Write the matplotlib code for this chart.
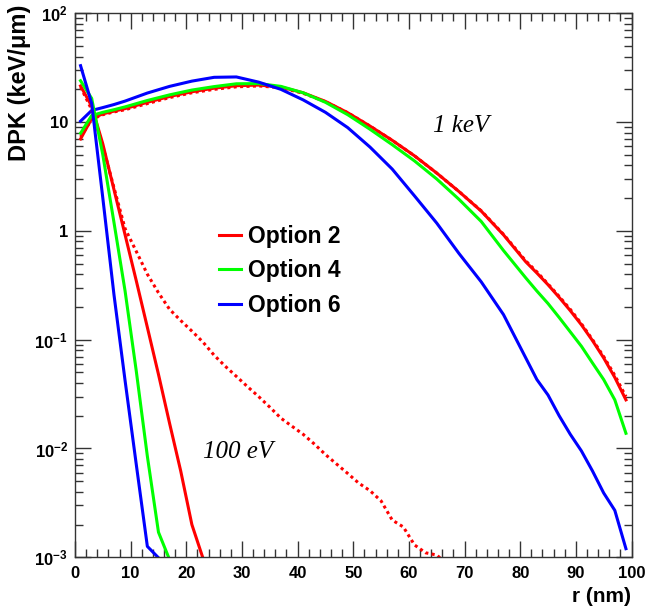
import matplotlib
matplotlib.use('Agg')
import matplotlib.pyplot as plt
from matplotlib.ticker import (FixedLocator, LogLocator, NullFormatter,
                               MultipleLocator, FixedFormatter)
from matplotlib.lines import Line2D

plt.rcParams['font.family'] = ['Liberation Sans', 'DejaVu Sans']
plt.rcParams['font.weight'] = 'bold'
plt.rcParams['mathtext.fontset'] = 'custom'
plt.rcParams['mathtext.rm'] = 'Liberation Sans:bold'
plt.rcParams['mathtext.bf'] = 'Liberation Sans:bold'
plt.rcParams['mathtext.it'] = 'Liberation Sans:bold'
plt.rcParams['mathtext.default'] = 'bf'

# ---------------- data ----------------
# 1 keV electrons
r_1kev = [1, 3, 5, 7, 9, 13, 17, 21, 25, 29, 33, 37, 41, 45, 49, 53, 57, 61,
          65, 69, 73, 77, 81, 83, 85, 87, 89, 91, 93, 95, 97, 99]
opt2_1kev = [7.0, 10.8, 11.9, 12.6, 13.3, 15.2, 17.2, 19.0, 20.5, 21.6, 21.9,
             21.0, 18.6, 15.5, 12.2, 9.2, 6.8, 4.9, 3.4, 2.3, 1.52, 0.92, 0.52,
             0.41, 0.32, 0.245, 0.185, 0.137, 0.098, 0.068, 0.045, 0.028]
opt2b_1kev = [7.3, 10.6, 11.7, 12.4, 13.0, 14.8, 16.8, 18.6, 20.0, 21.1, 21.5,
              20.7, 18.4, 15.4, 12.2, 9.2, 6.8, 4.9, 3.4, 2.3, 1.53, 0.93, 0.53,
              0.42, 0.325, 0.25, 0.19, 0.14, 0.10, 0.070, 0.047, 0.030]
opt4_1kev = [7.9, 11.5, 12.3, 13.0, 13.8, 15.8, 17.8, 19.7, 21.2, 22.5, 22.6,
             21.3, 18.6, 15.2, 11.7, 8.6, 6.2, 4.4, 3.0, 1.95, 1.22, 0.66, 0.37,
             0.28, 0.215, 0.16, 0.118, 0.087, 0.061, 0.043, 0.028, 0.0138]
opt6_1kev = [10.2, 12.8, 13.6, 14.5, 15.6, 18.5, 21.3, 23.8, 25.8, 26.0, 23.3,
             20.0, 16.0, 12.3, 8.9, 5.9, 3.7, 2.1, 1.18, 0.62, 0.34, 0.17, 0.068,
             0.043, 0.031, 0.020, 0.0135, 0.0095, 0.0062, 0.0039, 0.0027, 0.0012]

# 100 eV electrons
r_opt6_100 = [1, 3, 5, 7, 9, 11, 13, 15]
opt6_100 = [33, 14.8, 2.0, 0.26, 0.042, 0.0072, 0.00126, 0.00099]
r_opt4_100 = [1, 3, 5, 7, 9, 11, 13, 15, 17]
opt4_100 = [24, 16.5, 5.0, 1.2, 0.28, 0.052, 0.0085, 0.0017, 0.00095]
r_opt2_100 = [1, 3, 5, 7, 9, 11, 13, 15, 17, 19, 21, 23]
opt2_100 = [21.5, 14, 6.3, 2.4, 0.92, 0.35, 0.13, 0.048, 0.017, 0.0062, 0.002,
            0.00098]
r_opt2b_100 = [1, 3, 5, 7, 9, 11, 13, 15, 17, 19, 21, 23, 25, 27, 29, 31, 33,
               35, 37, 39, 41, 43, 45, 47, 49, 51, 53, 55, 57, 59, 61, 63, 65, 67]
opt2b_100 = [21, 13, 6.0, 2.5, 1.05, 0.65, 0.40, 0.27, 0.19, 0.15, 0.12, 0.095,
             0.072, 0.057, 0.046, 0.037, 0.030, 0.024, 0.019, 0.016, 0.0135,
             0.011, 0.0088, 0.0072, 0.0059, 0.0048, 0.0041, 0.0033, 0.0022,
             0.0019, 0.0013, 0.0011, 0.00105, 0.00085]

legend_labels = ['Option 2', 'Option 4', 'Option 6']
colors = ['#ff0000', '#00ff00', '#0000ff']
y_ticks = [1e-3, 1e-2, 1e-1, 1, 10, 100]
y_ticklabels = ['$10^{-3}$', '$10^{-2}$', '$10^{-1}$', '1', '10', '$10^{2}$']

# ---------------- figure ----------------
W, H = 646, 614
fig = plt.figure(figsize=(W / 100, H / 100), dpi=100)
left, right, top, bottom = 75, 631.5, 13.3, 557.3
ax = fig.add_axes([left / W, 1 - bottom / H, (right - left) / W, (bottom - top) / H])

lw = 2.2
dot = (0, (1.0, 1.1))
ax.plot(r_1kev, opt2_1kev, color=colors[0], lw=lw)
ax.plot(r_1kev, opt2b_1kev, color=colors[0], lw=lw, ls=dot)
ax.plot(r_1kev, opt4_1kev, color=colors[1], lw=lw)
ax.plot(r_1kev, opt6_1kev, color=colors[2], lw=lw)
ax.plot(r_opt2_100, opt2_100, color=colors[0], lw=lw)
ax.plot(r_opt2b_100, opt2b_100, color=colors[0], lw=lw, ls=dot)
ax.plot(r_opt4_100, opt4_100, color=colors[1], lw=lw)
ax.plot(r_opt6_100, opt6_100, color=colors[2], lw=lw)

ax.set_yscale('log')
ax.set_xlim(0, 100)
ax.set_ylim(1e-3, 1e2)

ax.xaxis.set_major_locator(MultipleLocator(10))
ax.xaxis.set_minor_locator(MultipleLocator(2))
ax.yaxis.set_major_locator(FixedLocator(y_ticks))
ax.yaxis.set_major_formatter(FixedFormatter(y_ticklabels))
ax.yaxis.set_minor_locator(LogLocator(base=10, subs=range(2, 10), numticks=20))
ax.yaxis.set_minor_formatter(NullFormatter())

ax.tick_params(which='both', direction='in', top=True, right=True,
               labelsize=12, width=1.0, color='#333333')
ax.tick_params(which='major', length=11.5)
ax.tick_params(which='minor', length=5.8)
ax.tick_params(axis='y', pad=5)
ax.tick_params(axis='x', pad=6)
for s in ax.spines.values():
    s.set_linewidth(1.0)
    s.set_color('#333333')

fig.text(20 / W, 1 - 5 / H, 'DPK (keV/μm)', rotation=90, ha='center', va='top',
         fontsize=17, fontweight='bold')
fig.text(right / W, 1 - 597 / H, 'r (nm)', ha='right', va='center',
         fontsize=15, fontweight='bold')

ax.text(0.6936, 0.793, '1 keV', transform=ax.transAxes, ha='center', va='center',
        fontsize=18, family='Liberation Serif', style='italic', weight='normal')
ax.text(0.293, 0.1936, '100 eV', transform=ax.transAxes, ha='center', va='center',
        fontsize=18, family='Liberation Serif', style='italic', weight='normal')

handles = [Line2D([], [], color=c, lw=lw) for c in colors]
ax.legend(handles, legend_labels, loc='upper left',
          bbox_to_anchor=((219 - left) / (right - left), (bottom - 225) / (bottom - top)),
          frameon=False, borderpad=0, borderaxespad=0, handlelength=0.95,
          handletextpad=0.3, labelspacing=0.5,
          prop={'weight': 'bold', 'size': 16.5})

fig.savefig('out.png', dpi=100)
